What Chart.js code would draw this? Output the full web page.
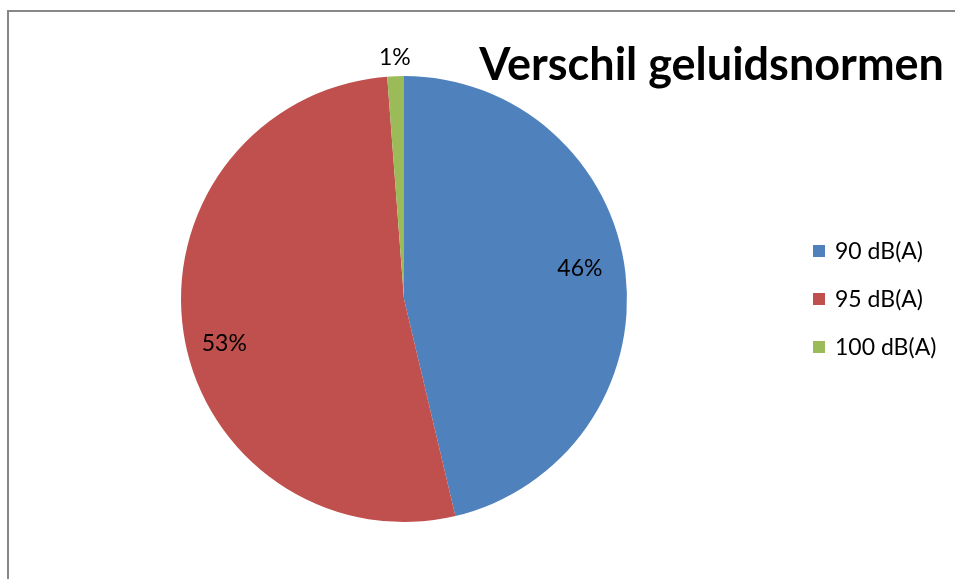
<!DOCTYPE html>
<html>
<head>
<meta charset="utf-8">
<script src="https://cdn.jsdelivr.net/npm/chart.js@4/dist/chart.umd.min.js"></script>
<style>
  html, body { margin: 0; padding: 0; background: #fff; }
  #wrap { position: relative; width: 955px; height: 579px; }
</style>
</head>
<body>
<div id="wrap"><canvas id="c" width="955" height="579"></canvas></div>
<script>
// ---- data ----
const chartTitle = 'Verschil geluidsnormen';
const categories = ['90 dB(A)', '95 dB(A)', '100 dB(A)'];
const shares = [46.3, 52.5, 1.2];
const colors = ['#4F81BD', '#C0504D', '#9BBB59'];

// label placement styling (radial factor of radius, small angular nudge in degrees)
const labelRadial = [0.80, 0.83, 1.085];
const labelNudge = [-3, -5, 0];

const FONT = 'Lato, "Open Sans", "DejaVu Sans", sans-serif';

const decor = {
  id: 'decor',
  beforeDraw(chart) {
    const ctx = chart.ctx;
    ctx.save();
    ctx.fillStyle = '#fff';
    ctx.fillRect(0, 0, chart.width, chart.height);
    ctx.fillStyle = '#878787';
    ctx.fillRect(7, 10, 2, chart.height - 10);
    ctx.fillRect(7, 10, chart.width - 7, 2);
    ctx.restore();
  },
  afterDraw(chart) {
    const ctx = chart.ctx;
    const meta = chart.getDatasetMeta(0);
    const data = chart.data.datasets[0].data;
    const total = data.reduce((a, b) => a + b, 0);
    ctx.save();
    // percentage labels
    ctx.fillStyle = '#000';
    ctx.font = '23px ' + FONT;
    ctx.textAlign = 'center';
    ctx.textBaseline = 'middle';
    meta.data.forEach((arc, i) => {
      const p = arc.getProps(['x', 'y', 'startAngle', 'endAngle', 'outerRadius'], true);
      const mid = (p.startAngle + p.endAngle) / 2 + labelNudge[i] * Math.PI / 180;
      const r = p.outerRadius * labelRadial[i];
      const x = p.x + Math.cos(mid) * r;
      const y = p.y + Math.sin(mid) * r;
      ctx.fillText(Math.round(data[i] / total * 100) + '%', x, y);
    });
    // title
    ctx.font = 'bold 45px ' + FONT;
    ctx.textAlign = 'right';
    ctx.textBaseline = 'alphabetic';
    ctx.fillText(chartTitle, 944, 80);
    // legend
    ctx.font = '23px ' + FONT;
    ctx.textAlign = 'left';
    ctx.textBaseline = 'middle';
    chart.data.labels.forEach((lab, i) => {
      const cy = 251 + i * 48;
      ctx.fillStyle = colors[i];
      ctx.fillRect(813, cy - 6, 12, 12);
      ctx.fillStyle = '#000';
      ctx.fillText(lab, 835, cy + 1);
    });
    ctx.restore();
  }
};

new Chart(document.getElementById('c'), {
  type: 'pie',
  data: {
    labels: categories,
    datasets: [{
      data: shares,
      backgroundColor: colors,
      borderWidth: 0,
      hoverOffset: 0
    }]
  },
  options: {
    responsive: false,
    animation: false,
    layout: { padding: { left: 181, right: 328, top: 76, bottom: 57 } },
    plugins: {
      legend: { display: false },
      title: { display: false },
      tooltip: { enabled: false }
    }
  },
  plugins: [decor]
});
</script>
</body>
</html>
